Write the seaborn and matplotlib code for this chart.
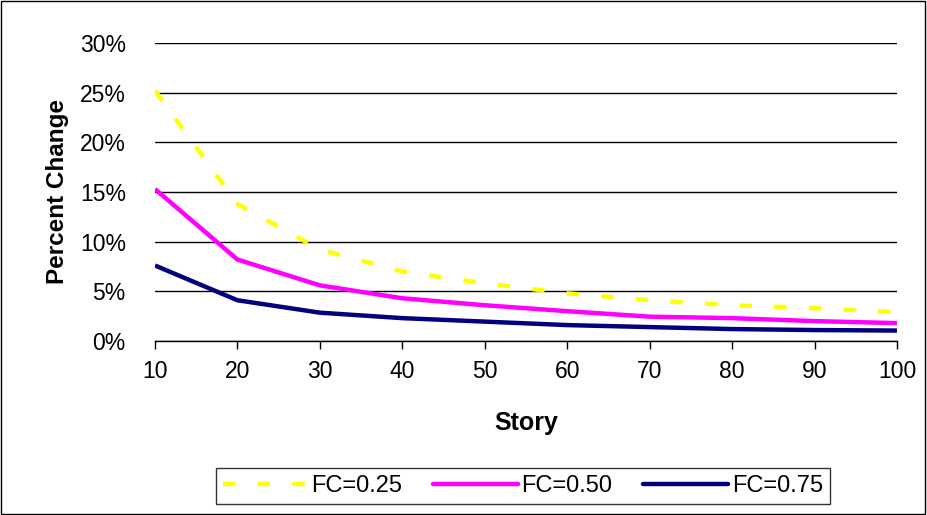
import pandas as pd
import numpy as np
import matplotlib
matplotlib.use('Agg')
import matplotlib.pyplot as plt
from matplotlib.patches import Rectangle
from matplotlib.ticker import FuncFormatter
import seaborn as sns

# ==================== DATA ====================
stories = [10, 20, 30, 40, 50, 60, 70, 80, 90, 100]
fc_025 = [25.2, 13.8, 9.2, 7.0, 5.8, 4.8, 4.1, 3.6, 3.3, 2.9]
fc_050 = [15.3, 8.2, 5.6, 4.3, 3.6, 3.0, 2.45, 2.3, 2.0, 1.8]
fc_075 = [7.6, 4.1, 2.85, 2.3, 1.95, 1.6, 1.4, 1.2, 1.1, 1.05]
series_names = ['FC=0.25', 'FC=0.50', 'FC=0.75']
colors = ['#FFFF00', '#FF00FF', '#000080']

df = pd.DataFrame({
    'Story': stories * 3,
    'Percent': fc_025 + fc_050 + fc_075,
    'Series': [s for s in series_names for _ in stories],
})

# ==================== FIGURE ====================
sns.set_theme(style='white')
plt.rcParams['font.family'] = ['Liberation Sans', 'DejaVu Sans']
plt.rcParams['text.color'] = 'black'
plt.rcParams['axes.labelcolor'] = 'black'

fig = plt.figure(figsize=(9.27, 5.15), dpi=100)
ax = fig.add_axes([0.1672, 0.3379, 0.8004, 0.5786])

sns.lineplot(data=df, x='Story', y='Percent', hue='Series', style='Series',
             palette=dict(zip(series_names, colors)),
             dashes={'FC=0.25': (2.8, 5.0), 'FC=0.50': '', 'FC=0.75': ''},
             linewidth=3.2, ax=ax, legend=False)
for line in ax.get_lines():
    line.set_dash_capstyle('butt')
    line.set_solid_capstyle('butt')

ax.set_xlim(10, 100)
ax.set_ylim(0, 30)
ax.set_xticks(stories)
ax.set_yticks(np.arange(0, 31, 5))
ax.yaxis.set_major_formatter(FuncFormatter(lambda v, p: f'{int(v)}%'))
ax.tick_params(axis='both', labelsize=16.5, colors='black')
ax.tick_params(axis='x', direction='out', length=6, width=1, bottom=True, pad=8)
ax.tick_params(axis='y', length=0, pad=21)
ax.grid(True, axis='y', color='black', linewidth=1)
ax.set_axisbelow(True)
for s in ['left', 'right', 'top']:
    ax.spines[s].set_visible(False)
ax.spines['bottom'].set_color('black')
ax.spines['bottom'].set_linewidth(1)

ax.set_xlabel('Story', fontsize=18, fontweight='bold', labelpad=20)
ax.set_ylabel('Percent Change', fontsize=17.5, fontweight='bold', labelpad=8)

# Legend
handles = [plt.Line2D([], [], color=c, linewidth=3.2,
                      linestyle=(0, (2.8, 5.0)) if i == 0 else '-')
           for i, c in enumerate(colors)]
leg = fig.legend(handles, series_names, loc='center', ncol=3,
                 bbox_to_anchor=(0.564, 0.056), fontsize=17,
                 frameon=True, fancybox=False, edgecolor='black',
                 handlelength=3.6, handletextpad=0.15, columnspacing=1.3,
                 borderpad=0.3)
leg.get_frame().set_linewidth(1)

# Border around the whole chart
fig.patches.append(Rectangle((0.001, 0.002), 0.997, 0.996, transform=fig.transFigure,
                             fill=False, edgecolor='black', linewidth=1))

plt.savefig('out.png', dpi=100)
